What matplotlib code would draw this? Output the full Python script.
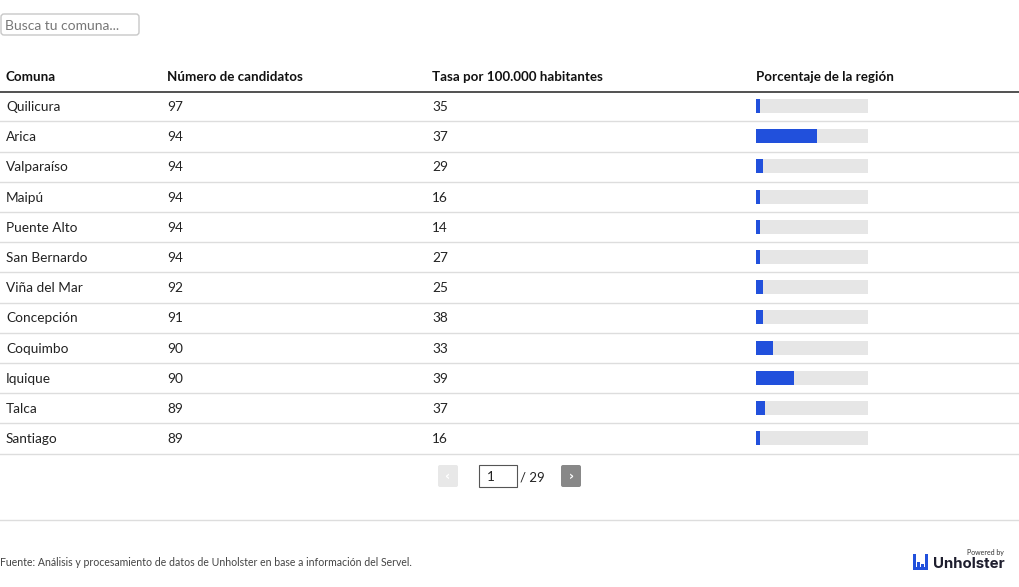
import matplotlib
matplotlib.use("Agg")
import matplotlib.pyplot as plt
from matplotlib.patches import FancyBboxPatch, Rectangle

comunas = ["Quilicura", "Arica", "Valparaíso", "Maipú", "Puente Alto", "San Bernardo",
           "Viña del Mar", "Concepción", "Coquimbo", "Iquique", "Talca", "Santiago"]
candidatos = [97, 94, 94, 94, 94, 94, 92, 91, 90, 90, 89, 89]
tasa = [35, 37, 29, 16, 14, 27, 25, 38, 33, 39, 37, 16]
porcentaje = [3.5, 54.5, 6.5, 3.5, 3.5, 3.5, 6.5, 6.5, 15, 34, 8, 3.5]
headers = ["Comuna", "Número de candidatos", "Tasa por 100.000 habitantes", "Porcentaje de la región"]
page, pages = 1, 29
fuente = "Fuente: Análisis y procesamiento de datos de Unholster en base a información del Servel."

FONT = "Lato"
W, H = 1020, 587
fig = plt.figure(figsize=(W / 100, H / 100), dpi=100)
ax = fig.add_axes([0, 0, 1, 1])
ax.set_xlim(0, W)
ax.set_ylim(H, 0)
ax.axis("off")

# search box
ax.add_patch(FancyBboxPatch((1, 14), 138, 21, boxstyle="round,pad=0,rounding_size=3",
                            fc="white", ec="#c8c8c8", lw=1))
ax.text(5, 25.5, "Busca tu comuna...", fontsize=10, color="#777777", va="center", family=FONT)

col_x = [6, 167, 432, 756]
header_y = 77
for x, h in zip(col_x, headers):
    ax.text(x, header_y, h, fontsize=9.6, fontweight="bold", color="#111111", va="center", family=FONT)
ax.plot([0, W], [91.5, 91.5], color="#333333", lw=1.2)

step = 30.2
row_y = [106 + i * step for i in range(len(comunas))]
for i, y in enumerate(row_y):
    ty = y + 1
    ax.text(col_x[0], ty, comunas[i], fontsize=9.8, color="#222222", va="center", family=FONT)
    ax.text(col_x[1], ty, str(candidatos[i]), fontsize=9.8, color="#222222", va="center", family=FONT)
    ax.text(col_x[2], ty, str(tasa[i]), fontsize=9.8, color="#222222", va="center", family=FONT)
    ax.plot([0, W], [y + 15.3, y + 15.3], color="#dddddd", lw=1)

track_w = 112
ax.barh(row_y, [track_w] * len(row_y), left=col_x[3], height=14, color="#e6e6e6")
ax.barh(row_y, [p / 100 * track_w for p in porcentaje], left=col_x[3], height=14, color="#2150dc")

# pagination
ax.add_patch(FancyBboxPatch((438, 465), 20, 22, boxstyle="round,pad=0,rounding_size=2",
                            fc="#e8e8e8", ec="none"))
ax.text(448, 476, "‹", fontsize=9, fontweight="bold", color="#ffffff", ha="center", va="center",
        family="DejaVu Sans")
ax.add_patch(Rectangle((479, 465), 38, 22, fc="white", ec="#555555", lw=0.8))
ax.text(487, 477, str(page), fontsize=9.8, color="#222222", va="center", family=FONT)
ax.text(520, 477, f"/ {pages}", fontsize=9.5, color="#222222", va="center", family=FONT)
ax.add_patch(FancyBboxPatch((561, 465), 20, 22, boxstyle="round,pad=0,rounding_size=2",
                            fc="#888888", ec="none"))
ax.text(571, 476, "›", fontsize=9, fontweight="bold", color="#ffffff", ha="center", va="center",
        family="DejaVu Sans")

ax.plot([0, W], [519.5, 519.5], color="#dddddd", lw=1)
ax.text(0, 562.5, fuente, fontsize=7.6, color="#444444", va="center", family=FONT)

# logo
ax.text(1004, 553, "Powered by", fontsize=5, color="#333333", ha="right", va="center", family=FONT)
ax.text(1005, 563.5, "Unholster", fontsize=10.8, fontweight="bold", color="#1e1e2e",
        ha="right", va="center", family="Inter")
for (x0, y0, w, h) in [(913, 554, 3, 16), (917, 562, 3, 8), (921, 564, 3, 6), (925, 554, 3, 16),
                       (913, 567, 15, 3)]:
    ax.add_patch(Rectangle((x0, y0), w, h, fc="#2150dc", ec="none"))

fig.savefig("out.png", dpi=100)
